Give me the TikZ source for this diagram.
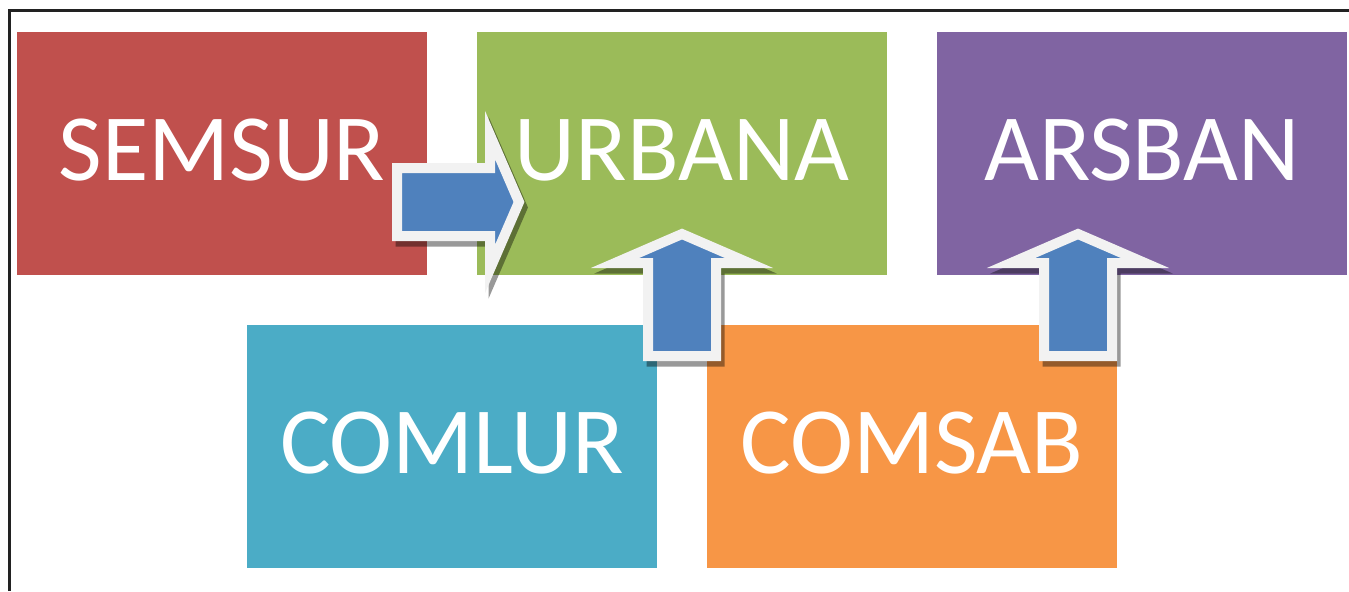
\documentclass[tikz,border=0pt]{standalone}
\usepackage{fontspec}
\setmainfont{Carlito}
\usetikzlibrary{calc,positioning}
\definecolor{semsurred}{HTML}{C0504D}
\definecolor{urbanagreen}{HTML}{9BBB59}
\definecolor{arsbanpurple}{HTML}{8064A2}
\definecolor{comluraqua}{HTML}{4BACC6}
\definecolor{comsaborange}{HTML}{F79646}
\definecolor{arrowblue}{HTML}{4F81BD}
\definecolor{arrowrim}{HTML}{F2F2F2}
\definecolor{frame}{HTML}{222222}

\tikzset{
  tile/.style={minimum width=8.2cm,minimum height=4.86cm,inner sep=0pt,outer sep=0pt,
    text=white,text height=1.22cm,text depth=0.14cm,font=\fontsize{54}{60}\selectfont},
  arrowbody/.style={draw=arrowrim,fill=arrowblue,line width=0.2cm},
  arrowshadow/.style={draw=black,opacity=0.4,line width=0.2cm}
}

% fat block arrow: #1 tail coordinate, #2 direction in degrees
\newcommand{\fatarrow}[2]{%
  \draw[arrowshadow,shift={($(#1)+(0.07,-0.11)$)},rotate=#2]
    (0,-0.68) -- (1.86,-0.68) -- (1.86,-1.34) -- (2.44,0) -- (1.86,1.34) -- (1.86,0.68) -- (0,0.68) -- cycle;
  \draw[arrowbody,shift={(#1)},rotate=#2]
    (0,-0.68) -- (1.86,-0.68) -- (1.86,-1.34) -- (2.44,0) -- (1.86,1.34) -- (1.86,0.68) -- (0,0.68) -- cycle;
}

\begin{document}
\begin{tikzpicture}
\useasboundingbox (0,0) rectangle (26.98,-11.82);
\draw[line width=0.05cm,frame] (0.19,-11.82) -- (0.19,-0.21) -- (26.98,-0.21);

\node[tile,fill=semsurred] (semsur) at (4.44,-3.07) {SEMSUR};
\node[tile,fill=urbanagreen,right=1cm of semsur] (urbana) {URBANA};
\node[tile,fill=arsbanpurple,right=1cm of urbana] (arsban) {ARSBAN};
\node[tile,fill=comluraqua,below=1cm of semsur,xshift=4.6cm] (comlur) {COMLUR};
\node[tile,fill=comsaborange,right=1cm of comlur] (comsab) {COMSAB};

\coordinate (semsurout) at ($(semsur.east)+(-0.6,-0.97)$);
\coordinate (comlurout) at ($(comlur.north east)!0.5!(comsab.north west)+(0,-0.62)$);
\coordinate (comsabout) at ($(comsab.north east)+(-0.78,-0.62)$);

\fatarrow{semsurout}{0}
\fatarrow{comlurout}{90}
\fatarrow{comsabout}{90}
\end{tikzpicture}
\end{document}
